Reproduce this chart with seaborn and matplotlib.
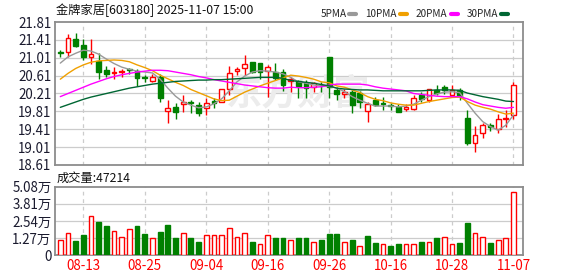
import numpy as np
import pandas as pd
import seaborn as sns
import matplotlib
matplotlib.use("Agg")
import matplotlib.pyplot as plt
from matplotlib.lines import Line2D

# ---------------- data ----------------
dates = ["08-08", "08-11", "08-12", "08-13", "08-14", "08-15", "08-18", "08-19", "08-20", "08-21",
         "08-22", "08-25", "08-26", "08-27", "08-28", "08-29", "09-01", "09-02", "09-03", "09-04",
         "09-05", "09-08", "09-09", "09-10", "09-11", "09-12", "09-15", "09-16", "09-17", "09-18",
         "09-19", "09-22", "09-23", "09-24", "09-25", "09-26", "09-29", "09-30", "10-09", "10-10",
         "10-13", "10-14", "10-15", "10-16", "10-17", "10-20", "10-21", "10-22", "10-23", "10-24",
         "10-27", "10-28", "10-29", "10-30", "10-31", "11-03", "11-04", "11-05", "11-06", "11-07"]

open_ = [21.13, 21.13, 21.44, 21.30, 21.03, 20.94, 20.74, 20.66, 20.69, 20.75,
         20.71, 20.57, 20.50, 20.59, 19.81, 19.91, 19.97, 20.03, 19.95, 19.88,
         20.04, 20.03, 20.30, 20.72, 20.77, 20.91, 20.89, 20.71, 20.70, 20.69,
         20.49, 20.49, 20.45, 20.36, 20.41, 21.03, 20.29, 20.19, 20.25, 20.22,
         19.82, 20.06, 19.99, 19.95, 19.91, 19.86, 19.86, 20.18, 20.07, 20.29,
         20.35, 20.18, 20.28, 19.67, 19.11, 19.32, 19.50, 19.42, 19.65, 19.74]
high = [21.18, 21.55, 21.56, 21.44, 21.43, 21.11, 20.83, 20.81, 20.76, 20.77,
        20.76, 20.62, 20.65, 20.65, 20.06, 20.00, 20.18, 20.06, 20.03, 20.12,
        20.12, 20.31, 20.83, 20.81, 21.07, 20.92, 20.89, 20.85, 20.90, 20.75,
        20.59, 20.51, 20.51, 20.47, 20.46, 21.03, 20.35, 20.30, 20.29, 20.27,
        20.03, 20.14, 20.14, 20.00, 19.97, 19.97, 20.18, 20.25, 20.32, 20.40,
        20.40, 20.40, 20.33, 19.84, 19.48, 19.54, 19.56, 19.75, 19.85, 20.47]
low = [21.03, 21.03, 21.24, 20.97, 20.87, 20.53, 20.59, 20.53, 20.57, 20.65,
       20.38, 20.47, 20.47, 20.03, 19.56, 19.65, 19.80, 19.77, 19.71, 19.73,
       19.88, 20.02, 20.18, 20.62, 20.62, 20.67, 20.53, 20.14, 20.51, 20.27,
       20.25, 20.10, 20.10, 20.25, 20.25, 20.10, 20.06, 20.10, 19.78, 19.88,
       19.58, 19.93, 19.84, 19.85, 19.79, 19.81, 19.85, 20.03, 20.03, 20.18,
       20.20, 20.16, 20.06, 19.06, 18.89, 19.21, 19.36, 19.33, 19.45, 19.63]
close = [21.12, 21.445, 21.28, 21.03, 21.09, 20.68, 20.65, 20.69, 20.72, 20.73,
         20.56, 20.55, 20.58, 20.12, 19.89, 19.79, 20.02, 19.99, 19.77, 19.99,
         20.00, 20.30, 20.66, 20.75, 20.88, 20.68, 20.69, 20.80, 20.55, 20.39,
         20.53, 20.37, 20.34, 20.44, 20.39, 20.35, 20.19, 20.24, 19.96, 20.02,
         19.98, 19.95, 19.97, 19.93, 19.80, 19.90, 20.10, 20.09, 20.30, 20.23,
         20.28, 20.29, 20.16, 19.11, 19.28, 19.50, 19.45, 19.65, 19.67, 20.41]

ma5 = [20.89, 21.03, 21.11, 21.18, 21.16, 21.09, 20.98, 20.88, 20.80, 20.75,
       20.71, 20.69, 20.67, 20.53, 20.33, 20.15, 20.02, 19.95, 19.89, 19.91,
       19.98, 20.09, 20.27, 20.47, 20.60, 20.69, 20.72, 20.71, 20.69, 20.65,
       20.57, 20.47, 20.44, 20.40, 20.38, 20.37, 20.33, 20.25, 20.14, 20.06,
       19.99, 19.93, 19.93, 19.93, 19.91, 19.93, 19.97, 20.06, 20.14, 20.20,
       20.24, 20.25, 20.23, 19.99, 19.77, 19.58, 19.47, 19.39, 19.50, 19.73]
ma10 = [20.53, 20.66, 20.77, 20.85, 20.91, 20.94, 20.95, 20.96, 20.95, 20.92,
        20.85, 20.79, 20.72, 20.62, 20.54, 20.46, 20.39, 20.30, 20.23, 20.16,
        20.09, 20.05, 20.06, 20.15, 20.24, 20.31, 20.38, 20.44, 20.50, 20.56,
        20.62, 20.60, 20.57, 20.53, 20.47, 20.45, 20.38, 20.35, 20.29, 20.23,
        20.14, 20.08, 20.05, 20.00, 19.97, 19.95, 19.95, 19.99, 20.03, 20.06,
        20.09, 20.12, 20.13, 20.03, 19.95, 19.90, 19.86, 19.80, 19.75, 19.77]
ma20 = [20.14, 20.21, 20.28, 20.35, 20.42, 20.48, 20.54, 20.59, 20.63, 20.66,
        20.69, 20.71, 20.73, 20.73, 20.72, 20.69, 20.66, 20.63, 20.59, 20.56,
        20.52, 20.49, 20.46, 20.43, 20.40, 20.38, 20.36, 20.34, 20.33, 20.33,
        20.35, 20.34, 20.34, 20.35, 20.36, 20.40, 20.42, 20.42, 20.42, 20.42,
        20.40, 20.36, 20.33, 20.31, 20.29, 20.27, 20.21, 20.19, 20.17, 20.15,
        20.14, 20.14, 20.14, 20.09, 20.02, 19.96, 19.93, 19.90, 19.88, 19.90]
ma30 = [19.90, 19.96, 20.02, 20.08, 20.13, 20.17, 20.21, 20.25, 20.29, 20.33,
        20.36, 20.39, 20.42, 20.44, 20.46, 20.48, 20.49, 20.50, 20.51, 20.51,
        20.52, 20.52, 20.53, 20.54, 20.55, 20.56, 20.57, 20.57, 20.57, 20.55,
        20.50, 20.48, 20.46, 20.44, 20.41, 20.38, 20.33, 20.31, 20.30, 20.29,
        20.29, 20.28, 20.27, 20.27, 20.27, 20.27, 20.27, 20.27, 20.28, 20.29,
        20.29, 20.29, 20.28, 20.22, 20.18, 20.14, 20.11, 20.08, 20.04, 20.03]

# volume in 万 (10k shares)
volume = [1.10, 1.67, 1.05, 1.49, 2.89, 2.47, 2.17, 1.77, 1.39, 1.92,
          2.17, 1.57, 1.25, 1.72, 2.24, 1.27, 1.62, 1.27, 0.97, 1.47,
          1.54, 1.47, 1.99, 1.39, 1.62, 0.97, 0.80, 1.47, 1.27, 1.27,
          1.10, 1.27, 1.27, 1.02, 1.12, 1.57, 1.57, 1.02, 1.12, 0.72,
          1.42, 0.90, 0.87, 0.67, 0.82, 0.87, 0.87, 0.97, 1.02, 1.27,
          1.39, 0.87, 0.90, 2.39, 1.62, 1.39, 0.90, 1.17, 1.27, 4.72]
vol_up = [1, 1, 0, 0, 1, 0, 0, 1, 1, 1, 0, 0, 1, 0, 0, 0, 1, 0, 0, 1,
          1, 1, 1, 1, 1, 0, 1, 1, 0, 0, 1, 0, 0, 1, 0, 0, 0, 1, 0, 1,
          0, 0, 1, 0, 0, 1, 1, 0, 1, 0, 1, 1, 0, 0, 1, 1, 0, 1, 1, 1]

price_ticks = [18.61, 19.01, 19.41, 19.81, 20.21, 20.61, 21.01, 21.41, 21.81]
vol_ticks = [0, 1.27, 2.54, 3.81, 5.08]
vol_tick_labels = ["0", "1.27万", "2.54万", "3.81万", "5.08万"]
date_ticks = ["08-13", "08-25", "09-04", "09-16", "09-26", "10-16", "10-28", "11-07"]
title = "金牌家居[603180] 2025-11-07 15:00"
vol_title = "成交量:47214"
ma_labels = ["5PMA", "10PMA", "20PMA", "30PMA"]

# ---------------- style ----------------
sns.set_theme(style="white")
plt.rcParams["font.family"] = ["Noto Sans CJK SC", "DejaVu Sans"]

RED = "#ff0000"
GREEN = "#008000"
MA_COLORS = ["#999999", "#f0a000", "#ff00ff", "#006633"]
GRID = "#cccccc"
SPINE = "#8c8c8c"
TXT = "#1a1a2e"

W, H = 578, 276
fig = plt.figure(figsize=(W / 100, H / 100), dpi=100)
fig.patch.set_facecolor("white")

def frac(x0, y0, x1, y1):
    return [x0 / W, 1 - y1 / H, (x1 - x0) / W, (y1 - y0) / H]

ax = fig.add_axes(frac(55, 22, 522.7, 165))
axv = fig.add_axes(frac(55, 186.7, 522.7, 255.3), sharex=ax)

df = pd.DataFrame({"date": dates, "open": open_, "high": high, "low": low, "close": close,
                   "ma5": ma5, "ma10": ma10, "ma20": ma20, "ma30": ma30,
                   "vol": volume, "vol_up": vol_up})
df["i"] = np.arange(len(df))
n = len(df)
tick_idx = [dates.index(d) for d in date_ticks]

for a in (ax, axv):
    a.set_facecolor("white")
    for s in a.spines.values():
        s.set_color(SPINE)
        s.set_linewidth(1.3)
    a.set_xlim(-0.69, n + 0.2)
    for t in tick_idx:
        a.axvline(t, color=GRID, lw=0.9, ls=(0, (3, 3)), zorder=0)
    a.tick_params(length=0, pad=2.5, labelsize=9.6, colors=TXT)

# price grid
ax.set_ylim(price_ticks[0], price_ticks[-1])
ax.set_yticks(price_ticks)
ax.set_yticklabels([f"{v:.2f}" for v in price_ticks])
for v in price_ticks[1:-1]:
    ax.axhline(v, color=GRID, lw=0.9, zorder=0)

# watermark
ax.text(0.52, 0.5, "东方财富", transform=ax.transAxes, fontsize=26, color="#ececec",
        fontweight="bold", ha="center", va="center", zorder=0.5)

# candles
body_w = 0.62
for _, r in df.iterrows():
    is_up = r["close"] >= r["open"]
    col = RED if is_up else GREEN
    ax.vlines(r["i"], r["low"], r["high"], color=col, lw=1.0, zorder=2)
    lo = min(r["open"], r["close"])
    h = max(abs(r["close"] - r["open"]), 0.012)
    ax.bar(r["i"], h, bottom=lo, width=body_w,
           facecolor="white" if is_up else GREEN, edgecolor=col, linewidth=1.0, zorder=3)

# moving averages via seaborn
for col_name, c in zip(["ma5", "ma10", "ma20", "ma30"], MA_COLORS):
    sns.lineplot(data=df, x="i", y=col_name, ax=ax, color=c, lw=1.0, zorder=4, legend=False)
ax.set_xlabel("")
ax.set_ylabel("")

# legend
handles = [Line2D([0], [0], color=c, lw=3) for c in MA_COLORS]
ax.legend(handles, ma_labels, ncol=4, loc="lower right", bbox_to_anchor=(0.975, 1.0),
          frameon=False, markerfirst=False, handlelength=0.7, handletextpad=0.3,
          columnspacing=0.9, fontsize=7.2, borderpad=0.15, borderaxespad=0.15)

# volume
axv.set_ylim(0, vol_ticks[-1])
axv.set_yticks(vol_ticks)
axv.set_yticklabels(vol_tick_labels)
for v in vol_ticks[1:-1]:
    axv.axhline(v, color=GRID, lw=0.9, zorder=0)
for _, r in df.iterrows():
    is_up = r["vol_up"] == 1
    axv.bar(r["i"], r["vol"], width=body_w, facecolor="white" if is_up else GREEN,
            edgecolor=RED if is_up else GREEN, linewidth=1.0, zorder=3)
axv.set_xticks(tick_idx)
axv.set_xticklabels(date_ticks)
axv.tick_params(axis="x", colors=RED, labelsize=9.6, pad=2.5)
plt.setp(ax.get_xticklabels(), visible=False)
axv.set_xlabel("")
axv.set_ylabel("")

fig.text(56 / W, 1 - 10 / H, title, fontsize=8.8, color="#111111", ha="left", va="center")
fig.text(57 / W, 1 - 178 / H, vol_title, fontsize=8.8, color="#111111", ha="left", va="center")

fig.savefig("out.png", dpi=100, facecolor="white")
